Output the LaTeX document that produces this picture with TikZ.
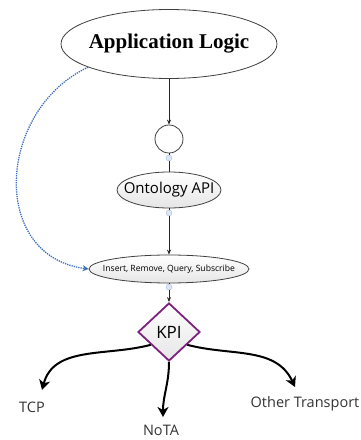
\documentclass[tikz,border=0pt]{standalone}
\usepackage{fontspec}
\setmainfont{Liberation Serif}
\setsansfont{Open Sans}
\usetikzlibrary{shapes.geometric, arrows.meta}

\definecolor{kpipurple}{RGB}{125,35,125}
\definecolor{linkblue}{RGB}{60,110,190}

\tikzset{
  bubble/.style={ellipse, draw=black!75, line width=0.8pt, inner ysep=3pt,
    top color=white, bottom color=black!10, font=\sffamily},
  joint/.style={circle, draw=linkblue!45, fill=linkblue!18, minimum size=6pt, inner sep=0pt},
  thin arrow/.style={draw=black!85, line width=0.7pt, -{Stealth[length=5pt,width=4pt]}},
  fat arrow/.style={draw=black, line width=2pt, -{Stealth[length=10pt,width=11pt,inset=3pt]}},
  transport/.style={font=\sffamily\fontsize{14.5}{17}\selectfont, text=black!80}
}

\begin{document}
\begin{tikzpicture}[x=1pt,y=1pt]
  \useasboundingbox (0,0) rectangle (361,440);

  % top of the stack
  \node[ellipse, draw=black!75, line width=0.8pt, minimum width=216pt, minimum height=69pt, inner xsep=-6pt, inner ysep=0pt,
    font=\fontsize{21}{25}\selectfont\bfseries] (app) at (169,396) {Application Logic};
  \node[circle, draw=black!75, line width=0.8pt, minimum size=28pt, inner sep=0pt] (hub) at (169,301) {};
  \node[joint] (dot1) at (169,282) {};
  \node[bubble, minimum width=104pt, minimum height=36pt, inner xsep=-9pt, font=\sffamily\fontsize{15}{18}\selectfont] (onto) at (169,250) {Ontology API};
  \node[joint] (dot2) at (169,227) {};
  \node[bubble, minimum width=160pt, minimum height=28pt, inner xsep=-19pt, inner ysep=2pt, font=\sffamily\fontsize{8.6}{10}\selectfont] (ops) at (169,171) {Insert, Remove, Query, Subscribe};
  \node[joint] (dot3) at (169,153) {};
  \node[diamond, draw=kpipurple, line width=1.8pt, minimum width=62pt, minimum height=58pt, inner sep=0pt,
    top color=white, bottom color=black!10, font=\sffamily\fontsize{17}{20}\selectfont] (kpi) at (169,108) {KPI};

  % transports
  \node[transport] (tcp) at (32,33) {TCP};
  \node[transport] (nota) at (161,10) {NoTA};
  \node[transport] (other) at (305,36) {Other Transport};
  \coordinate (tcptip) at (42,50);
  \coordinate (notatip) at (163,23);
  \coordinate (othertip) at (295,53);

  \draw[thin arrow] (app) -- (hub);
  \draw[draw=black!85, line width=0.7pt] (hub) -- (dot1) -- (onto);
  \draw[draw=black!85, line width=0.7pt] (onto) -- (dot2);
  \draw[thin arrow] (dot2) -- (ops);
  \draw[draw=black!85, line width=0.7pt] (ops) -- (dot3);
  \draw[thin arrow] (dot3) -- (kpi);

  \draw[fat arrow] (kpi.-145) to[out=195,in=75] (tcptip);
  \draw[fat arrow] (kpi.south) to[out=-90,in=90] (notatip);
  \draw[fat arrow] (kpi.-35) to[out=-15,in=115] (othertip);

  % shortcut from the application
  \draw[linkblue, densely dotted, line width=1.3pt, -{Stealth[length=6pt,width=6pt]}]
    (app.196) .. controls (-3,330) and (-11,184) .. (ops.west);
\end{tikzpicture}
\end{document}
